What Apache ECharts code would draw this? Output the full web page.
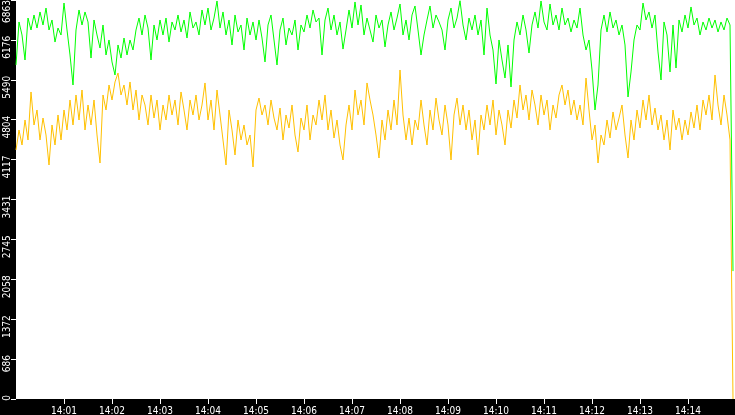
<!DOCTYPE html>
<html>
<head>
<meta charset="utf-8">
<script src="https://cdn.jsdelivr.net/npm/echarts@6/dist/echarts.min.js"></script>
<style>
  html, body { margin: 0; padding: 0; background: #000; }
  #chart { width: 735px; height: 415px; }
</style>
</head>
<body>
<div id="chart"></div>
<script>
// one sample every 3.75 s starting 14:00:00
const STEP_SEC = 3.75;
const START_MIN = 0;

const greenValues = [
  5745, 6485, 6261, 5831, 6553, 6347, 6605, 6381, 6657, 6433,
  6725, 6347, 6519, 6140, 6381, 6261, 6811, 6347, 5917, 5401,
  6347, 6691, 6433, 6657, 6485, 5865, 6519, 6261, 6037, 6433,
  5917, 6175, 5797, 5573, 6089, 5865, 6209, 5917, 6175, 6003,
  6347, 6553, 6261, 6605, 6381, 5831, 6433, 6175, 6519, 6261,
  6553, 6140, 6485, 6347, 6605, 6313, 6519, 6209, 6657, 6381,
  6485, 6261, 6691, 6433, 6725, 6347, 6553, 6846, 6381, 6657,
  6261, 6519, 6089, 6605, 6313, 6433, 6003, 6553, 6261, 6485,
  6175, 6519, 6209, 5797, 6433, 6605, 6175, 5745, 6347, 6553,
  6089, 6381, 6261, 6519, 6003, 6433, 6313, 6605, 6381, 6691,
  6485, 6553, 5917, 6519, 6725, 6347, 6605, 6261, 6485, 6019,
  6347, 6691, 6381, 6829, 6433, 6777, 6261, 6553, 6347, 6140,
  6605, 6381, 6519, 6055, 6433, 6657, 6347, 6553, 6794, 6261,
  6519, 6175, 6605, 6760, 6347, 5917, 6261, 6519, 6760, 6381,
  6605, 6485, 6347, 6003, 6519, 6725, 6381, 6553, 6850, 6433,
  6175, 6553, 6347, 6605, 6261, 6519, 5917, 6725, 6261, 6003,
  5418, 6175, 5831, 5521, 6089, 5367, 6175, 6485, 6261, 6605,
  6347, 5951, 6433, 6657, 6381, 6846, 6485, 6347, 6794, 6433,
  6605, 6347, 6725, 6433, 6553, 6313, 6519, 6381, 6725, 6261,
  6003, 6175, 5659, 4971, 5401, 6347, 6605, 6313, 6657, 6381,
  6519, 6261, 6433, 6089, 5195, 5625, 6175, 6433, 6347, 6811,
  6519, 6657, 6381, 6605, 5969, 5487, 6485, 6261, 5625, 6433,
  5693, 6519, 6313, 6605, 6381, 6743, 6433, 6553, 6261, 6485,
  6347, 6553, 6381, 6519, 6313, 6485, 6347, 6553, 6433, 2200
];

const orangeValues = [
  4283, 4627, 4369, 4799, 4455, 5281, 4713, 4971, 4455, 4833,
  4541, 4025, 4713, 4369, 4885, 4455, 4971, 4627, 5143, 4713,
  5229, 4799, 5315, 4627, 5057, 4713, 5143, 4541, 4059, 5229,
  4971, 5401, 5143, 5453, 5607, 5229, 5401, 5057, 5453, 4971,
  5315, 4799, 5229, 5057, 4713, 5229, 4833, 5143, 4627, 5057,
  4799, 5229, 4885, 5143, 4713, 5281, 4971, 4627, 5143, 4885,
  5229, 4799, 5057, 5436, 4799, 5143, 4627, 5315, 4885, 4455,
  4025, 4971, 4627, 4197, 4799, 4455, 4713, 4369, 4541, 3991,
  4971, 5177, 4885, 5057, 4713, 5143, 4833, 4627, 5005, 4455,
  4885, 4661, 5057, 4541, 4249, 4833, 4627, 5057, 4455, 4885,
  4713, 5143, 4799, 5229, 4627, 4971, 4489, 4799, 4369, 4111,
  4713, 5057, 4627, 5315, 4885, 5143, 4713, 5436, 5143, 4885,
  4541, 4145, 4799, 4455, 4971, 4627, 5143, 4713, 5659, 4885,
  4455, 4833, 4369, 4799, 4627, 5143, 4713, 4369, 4971, 4627,
  5177, 4799, 4541, 5057, 4713, 4111, 4885, 5177, 4713, 5057,
  4627, 4971, 4455, 4799, 4197, 4885, 4627, 5057, 4713, 5143,
  4541, 4971, 4713, 4369, 4971, 4661, 5143, 4833, 5401, 4971,
  5229, 4799, 5315, 5057, 4713, 5229, 4885, 5143, 4627, 5057,
  4833, 5229, 5401, 5057, 5315, 4885, 5143, 4799, 5057, 4713,
  5521, 4971, 4455, 4713, 4059, 4541, 4369, 4799, 4489, 4937,
  4627, 4833, 5057, 4541, 4145, 4799, 4455, 4971, 4661, 5143,
  4799, 5229, 4713, 5005, 4627, 4885, 4455, 4799, 4283, 4971,
  4627, 4833, 4455, 4799, 4541, 4937, 4661, 5057, 4627, 5143,
  4885, 5229, 4799, 5573, 5057, 4713, 5229, 4885, 4455, 0
];

const yMax = 6863;
const yStep = 686.3;
const xMaxSec = 898.75;
const labelFont = "'DejaVu Sans Condensed', 'DejaVu Sans', sans-serif";

function toPairs(values) {
  return values.map((v, i) => [i * STEP_SEC, v]);
}

function minuteLabel(sec) {
  const m = START_MIN + Math.round(sec / 60);
  return "14:" + (m < 10 ? "0" + m : m);
}

function yLabel(v) {
  const n = Math.floor(v + 1e-6);
  // the top label is kept inside the chart
  return v >= yMax - 1 ? "{top|" + n + "}" : String(n);
}

const dom = document.getElementById("chart");
const myChart = echarts.init(dom);

const option = {
  backgroundColor: "#000",
  animation: false,
  grid: {
    left: 16,
    right: 0,
    top: 0,
    bottom: 16,
    outerBoundsMode: "none",
    containLabel: false,
    show: true,
    backgroundColor: "#fff",
    borderWidth: 0,
  },
  xAxis: {
    type: "value",
    min: 0,
    max: xMaxSec,
    interval: 60,
    axisLine: { show: false },
    splitLine: { show: false },
    axisTick: { show: true, length: 5, lineStyle: { color: "#fff", width: 1 } },
    axisLabel: {
      color: "#fff",
      fontFamily: labelFont,
      fontSize: 10,
      margin: 7,
      showMinLabel: false,
      showMaxLabel: false,
      formatter: minuteLabel,
    },
  },
  yAxis: {
    type: "value",
    min: 0,
    max: yMax,
    interval: yStep,
    axisLine: { show: false },
    splitLine: { show: false },
    axisTick: { show: true, length: 5, lineStyle: { color: "#fff", width: 1 } },
    axisLabel: {
      color: "#fff",
      fontFamily: labelFont,
      fontSize: 10,
      rotate: 90,
      margin: 4,
      align: "right",
      verticalAlign: "bottom",
      padding: [0, -4, 0, 0],
      formatter: yLabel,
      rich: {
        top: {
          color: "#fff",
          fontFamily: labelFont,
          fontSize: 10,
          padding: [0, 4, 0, 0],
        },
      },
    },
  },
  series: [
    {
      name: "green",
      type: "line",
      data: toPairs(greenValues),
      showSymbol: false,
      lineStyle: { color: "#00ff00", width: 1 },
      itemStyle: { color: "#00ff00" },
    },
    {
      name: "orange",
      type: "line",
      data: toPairs(orangeValues),
      showSymbol: false,
      lineStyle: { color: "#ffc000", width: 1 },
      itemStyle: { color: "#ffc000" },
    },
  ],
};

myChart.setOption(option);
</script>
</body>
</html>
